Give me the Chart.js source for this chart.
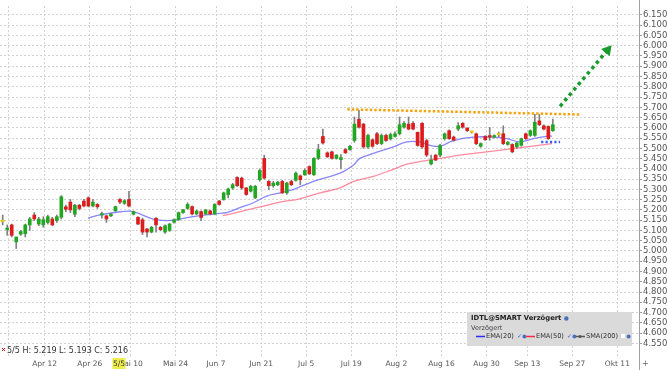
<!DOCTYPE html>
<html><head><meta charset="utf-8">
<script src="https://cdn.jsdelivr.net/npm/chart.js@4.4.0/dist/chart.umd.min.js"></script>
<style>html,body{margin:0;padding:0;background:#fff;overflow:hidden}</style>
</head><body>
<canvas id="c" width="667" height="370"></canvas>
<script>
// ---- data (trading-day index 0 = first candle) ----
const opens  = [5.143,5.104,5.127,5.044,5.082,5.084,5.127,5.175,5.131,5.127,5.139,5.156,5.148,5.164,5.215,5.238,5.179,5.223,5.243,5.259,5.219,5.227,5.175,5.171,5.171,5.195,5.251,5.232,5.251,5.179,5.164,5.152,5.107,5.092,5.159,5.115,5.092,5.100,5.140,5.152,5.187,5.207,5.216,5.180,5.192,5.180,5.195,5.180,5.243,5.251,5.275,5.307,5.358,5.355,5.307,5.291,5.259,5.347,5.451,5.339,5.318,5.323,5.339,5.283,5.339,5.344,5.366,5.371,5.411,5.371,5.451,5.558,5.478,5.483,5.451,5.445,5.494,5.494,5.538,5.642,5.618,5.507,5.542,5.571,5.523,5.563,5.546,5.558,5.571,5.603,5.618,5.622,5.578,5.622,5.538,5.424,5.467,5.467,5.547,5.586,5.555,5.594,5.622,5.599,5.578,5.571,5.510,5.558,5.562,5.555,5.566,5.571,5.519,5.519,5.507,5.515,5.571,5.563,5.563,5.634,5.610,5.607,5.586];
const highs  = [5.175,5.127,5.131,5.068,5.100,5.131,5.164,5.187,5.164,5.167,5.175,5.164,5.175,5.270,5.223,5.251,5.227,5.227,5.251,5.264,5.251,5.231,5.190,5.175,5.183,5.219,5.255,5.250,5.291,5.195,5.167,5.160,5.110,5.120,5.163,5.120,5.127,5.135,5.156,5.190,5.203,5.235,5.220,5.199,5.195,5.203,5.199,5.231,5.247,5.287,5.306,5.330,5.362,5.360,5.310,5.320,5.320,5.400,5.467,5.343,5.339,5.340,5.345,5.335,5.345,5.385,5.370,5.400,5.415,5.455,5.520,5.594,5.483,5.487,5.470,5.470,5.500,5.515,5.653,5.685,5.622,5.570,5.546,5.578,5.570,5.570,5.575,5.580,5.653,5.630,5.653,5.630,5.580,5.625,5.545,5.467,5.470,5.520,5.575,5.590,5.560,5.626,5.626,5.600,5.582,5.575,5.527,5.562,5.602,5.566,5.580,5.610,5.534,5.523,5.530,5.550,5.575,5.590,5.666,5.666,5.615,5.610,5.642];
const lows   = [5.127,5.076,5.068,5.012,5.076,5.068,5.100,5.148,5.123,5.115,5.131,5.123,5.139,5.156,5.192,5.187,5.167,5.200,5.215,5.215,5.215,5.207,5.160,5.139,5.167,5.193,5.230,5.227,5.215,5.175,5.128,5.080,5.068,5.088,5.092,5.098,5.085,5.095,5.136,5.148,5.183,5.203,5.176,5.176,5.147,5.176,5.176,5.176,5.223,5.247,5.259,5.300,5.314,5.300,5.271,5.287,5.255,5.340,5.350,5.298,5.310,5.318,5.280,5.276,5.318,5.340,5.323,5.368,5.372,5.368,5.445,5.520,5.455,5.447,5.447,5.400,5.475,5.490,5.530,5.598,5.500,5.500,5.505,5.518,5.518,5.534,5.540,5.555,5.565,5.598,5.590,5.590,5.510,5.500,5.460,5.419,5.440,5.460,5.540,5.543,5.535,5.586,5.598,5.582,5.574,5.518,5.505,5.538,5.539,5.550,5.555,5.518,5.515,5.478,5.500,5.510,5.543,5.558,5.558,5.610,5.590,5.543,5.582];
const closes = [5.143,5.111,5.076,5.068,5.095,5.127,5.156,5.156,5.156,5.152,5.167,5.127,5.167,5.264,5.203,5.200,5.223,5.207,5.219,5.219,5.238,5.215,5.177,5.156,5.179,5.216,5.238,5.245,5.219,5.192,5.131,5.092,5.092,5.115,5.127,5.104,5.123,5.131,5.152,5.187,5.200,5.227,5.180,5.195,5.163,5.200,5.180,5.227,5.227,5.283,5.302,5.323,5.318,5.307,5.275,5.315,5.315,5.392,5.355,5.318,5.331,5.335,5.283,5.331,5.323,5.379,5.347,5.392,5.376,5.451,5.494,5.526,5.459,5.451,5.467,5.455,5.478,5.510,5.618,5.603,5.507,5.563,5.510,5.523,5.563,5.538,5.567,5.571,5.615,5.622,5.594,5.594,5.514,5.507,5.467,5.443,5.443,5.514,5.571,5.547,5.539,5.610,5.603,5.586,5.578,5.523,5.523,5.542,5.555,5.562,5.566,5.523,5.530,5.483,5.526,5.547,5.547,5.586,5.627,5.615,5.594,5.547,5.615];

const ema20Idx = [18.9,21.6,26.0,28.2,30.5,33.4,36.4,38.6,40.1,43.8,48.2,49.7,52.6,55.6,58.5,61.5,64.4,68.9,74.8,77.8,79.2,82.2,86.6,89.6,92.5,94.8,97.0,99.9,104.4,108.8,111.8,114.7,117.7,120.6,121.8];
const ema20Val = [5.160,5.176,5.191,5.194,5.180,5.155,5.148,5.152,5.159,5.172,5.183,5.187,5.211,5.235,5.267,5.283,5.299,5.339,5.379,5.419,5.451,5.475,5.507,5.531,5.531,5.514,5.510,5.538,5.555,5.555,5.547,5.531,5.547,5.558,5.560];
const ema50Idx = [48.8,51.1,55.6,58.5,61.5,65.9,70.4,74.8,77.8,82.2,86.6,89.6,92.5,97.0,101.4,107.3,111.8,116.2,120.6,121.8];
const ema50Val = [5.172,5.183,5.207,5.222,5.238,5.254,5.283,5.307,5.339,5.363,5.398,5.423,5.435,5.451,5.467,5.483,5.495,5.507,5.519,5.523];

const resistanceIdx = [76.4, 128.0];
const resistanceVal = [5.690, 5.665];
const supportIdx = [119.4, 123.6];
const supportVal = [5.531, 5.531];
const targetIdx = [123.6, 134.1];
const targetVal = [5.705, 5.978];

const xTickIdx    = [1, 9, 19, 28, 38, 47, 57, 67, 77, 87, 97, 107, 116, 126, 136];
const xTickLabels = ['', 'Apr 12', 'Apr 26', 'Mai 10', 'Mai 24', 'Jun 7', 'Jun 21', 'Jul 5', 'Jul 19', 'Aug 2', 'Aug 16', 'Aug 30', 'Sep 13', 'Sep 27', 'Okt 11'];
const yTickLabels = ['6.150','6.100','6.050','6.000','5.950','5.900','5.850','5.800','5.750','5.700','5.650','5.600','5.550','5.500','5.450','5.400','5.350','5.300','5.250','5.200','5.150','5.100','5.050','5.000','4.9500','4.9000','4.8500','4.8000','4.7500','4.7000','4.6500','4.6000','4.5500'];

const crossIdx = 25;
const crossDate = '5/5';
const legendTitle = 'IDTL@SMART Verzögert';
const legendSub = 'Verzögert';
const legendItems = ['EMA(20)', 'EMA(50)', 'SMA(200)'];

// ---- styles ----
const UP = '#22a722', DOWN = '#dd1d1d', FLAT = '#e8c800', WICK = '#808080';
const GRID_SHIFT = 0.3;
const FONT = '"DejaVu Sans", Verdana, sans-serif';

const candleColor = opens.map((o, i) => closes[i] > o ? UP : (closes[i] < o ? DOWN : FLAT));
const yLabelMap = {};
yTickLabels.forEach(l => { yLabelMap[parseFloat(l).toFixed(2)] = l; });

const overlay = {
  id: 'overlay',
  afterDraw(chart) {
    const {ctx, chartArea: a, scales: {x}} = chart;
    ctx.save();
    ctx.strokeStyle = '#a0a0a0'; ctx.lineWidth = 1;
    ctx.beginPath(); ctx.moveTo(a.right + 0.5, 0); ctx.lineTo(a.right + 0.5, 370); ctx.stroke();

    ctx.strokeStyle = '#c01010'; ctx.lineWidth = 1;
    ctx.beginPath(); ctx.moveTo(2, 348); ctx.lineTo(5, 351); ctx.moveTo(5, 348); ctx.lineTo(2, 351); ctx.stroke();
    ctx.fillStyle = '#333'; ctx.font = '8px ' + FONT; ctx.textBaseline = 'middle'; ctx.textAlign = 'left';
    const info = crossDate + ' H: ' + highs[crossIdx].toFixed(3) + ' L: ' + lows[crossIdx].toFixed(3) + ' C: ' + closes[crossIdx].toFixed(3);
    ctx.fillText(info, 7, 350.5);

    const cx = x.getPixelForValue(crossIdx);
    ctx.fillStyle = '#eded4c';
    ctx.fillRect(cx - 3, 358, 13, 11);
    ctx.fillStyle = '#333'; ctx.font = '7.5px ' + FONT; ctx.textAlign = 'center';
    ctx.fillText(crossDate, cx + 3.5, 364);

    ctx.fillStyle = '#666'; ctx.font = '8px ' + FONT; ctx.textAlign = 'left';
    ctx.fillText('+', 642, 364);

    ctx.fillStyle = '#dadada';
    ctx.fillRect(467, 312, 165, 34);
    ctx.fillStyle = '#222'; ctx.font = 'bold 6.8px ' + FONT; ctx.textAlign = 'left';
    ctx.fillText(legendTitle, 471, 318.5);
    const tw = ctx.measureText(legendTitle).width;
    ctx.fillStyle = '#4a72b8'; ctx.beginPath(); ctx.arc(471 + tw + 5, 318.5, 2.2, 0, Math.PI * 2); ctx.fill();
    ctx.fillStyle = '#444'; ctx.font = '6.5px ' + FONT;
    ctx.fillText(legendSub, 471, 328);
    const rowY = 336;
    const items = [
      {x: 476, col: '#2b2bff', text: legendItems[0], check: true},
      {x: 526, col: '#ff2b40', text: legendItems[1], check: true},
      {x: 576, col: '#555555', text: legendItems[2], check: false, dot: true}
    ];
    items.forEach(it => {
      ctx.strokeStyle = it.col; ctx.lineWidth = 1.5;
      ctx.beginPath(); ctx.moveTo(it.x, rowY + 0.5); ctx.lineTo(it.x + 9, rowY + 0.5); ctx.stroke();
      if (it.dot) { ctx.fillStyle = it.col; ctx.beginPath(); ctx.arc(it.x + 4, rowY + 0.5, 1.5, 0, Math.PI * 2); ctx.fill(); }
      ctx.fillStyle = '#333'; ctx.font = '6.6px ' + FONT;
      ctx.fillText(it.text, it.x + 10, rowY + 0.5);
      const w = ctx.measureText(it.text).width;
      let px = it.x + 10 + w + 3;
      if (it.check) {
        ctx.fillStyle = '#3060d0'; ctx.font = '6px ' + FONT; ctx.fillText('✓', px, rowY + 0.5);
      } else {
        ctx.fillStyle = '#fff'; ctx.fillRect(px, rowY - 2, 4, 4);
      }
      ctx.fillStyle = '#4a72b8'; ctx.beginPath(); ctx.arc(px + 7.5, rowY + 0.5, 2, 0, Math.PI * 2); ctx.fill();
    });
    ctx.restore();
  }
};

const last = targetIdx.length - 1;
new Chart(document.getElementById('c'), {
  type: 'line',
  data: {
    datasets: [
      { label: 'target', data: targetIdx.map((v, i) => ({x: v, y: targetVal[i]})),
        borderColor: '#1b9a2e', backgroundColor: '#1b9a2e', borderWidth: 3.5, borderDash: [3.5, 3.5],
        pointRadius: c => c.dataIndex === last ? 6.5 : 0, pointStyle: 'triangle', pointRotation: 40,
        pointBorderWidth: 0, order: 0 },
      { label: 'resistance', data: resistanceIdx.map((v, i) => ({x: v, y: resistanceVal[i]})),
        borderColor: '#f5a30f', borderWidth: 2.5, borderDash: [2.5, 2], pointRadius: 0, order: 0 },
      { label: 'support', data: supportIdx.map((v, i) => ({x: v, y: supportVal[i]})),
        borderColor: '#3a5cf5', borderWidth: 2.5, borderDash: [2.2, 2.2], pointRadius: 0, order: 0 },
      { type: 'bar', label: 'body', data: opens.map((o, i) => ({x: i, y: [o, closes[i]]})),
        backgroundColor: candleColor, barThickness: 3, grouped: false, minBarLength: 1.5, order: 2 },
      { type: 'bar', label: 'wick', data: lows.map((l, i) => ({x: i, y: [l, highs[i]]})),
        backgroundColor: WICK, barThickness: 1, grouped: false, order: 3 },
      { label: 'EMA(20)', data: ema20Idx.map((v, i) => ({x: v, y: ema20Val[i]})),
        borderColor: 'rgba(95,95,255,0.75)', borderWidth: 1.3, pointRadius: 0, tension: 0.35, order: 4 },
      { label: 'EMA(50)', data: ema50Idx.map((v, i) => ({x: v, y: ema50Val[i]})),
        borderColor: 'rgba(255,100,125,0.75)', borderWidth: 1.3, pointRadius: 0, tension: 0.35, order: 4 }
    ]
  },
  options: {
    responsive: false, animation: false,
    layout: { padding: 0, autoPadding: false },
    plugins: { legend: { display: false }, tooltip: { enabled: false } },
    scales: {
      x: {
        type: 'linear', min: -0.6, max: 141.1, offset: false,
        afterBuildTicks: s => { s.ticks = xTickIdx.map(v => ({value: v + GRID_SHIFT})); },
        afterFit: s => { s.height = 13; },
        ticks: { autoSkip: false, maxRotation: 0, padding: 3, color: '#555', font: { family: FONT, size: 7.5 },
                 callback: (v, i) => xTickLabels[i] },
        grid: { color: '#d2d2d2', drawTicks: false, offset: false },
        border: { display: false, dash: [2, 2] }
      },
      y: {
        type: 'linear', position: 'right', min: 4.4833, max: 6.1931,
        afterBuildTicks: s => { s.ticks = yTickLabels.map(l => ({value: parseFloat(l)})).reverse(); },
        afterFit: s => { s.width = 28; },
        ticks: { autoSkip: false, padding: 1, color: '#555', font: { family: FONT, size: 8.5 },
                 callback: v => yLabelMap[Number(v).toFixed(2)] },
        grid: { color: '#d2d2d2', drawTicks: true, tickLength: 3, tickColor: '#999' },
        border: { display: false, dash: [2, 2] }
      }
    }
  },
  plugins: [overlay]
});
</script>
</body></html>
